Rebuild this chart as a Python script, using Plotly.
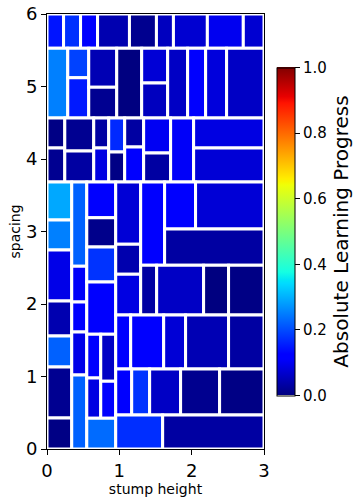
import numpy as np
import plotly.graph_objects as go

# cell bounds (stump height x, spacing y) and absolute learning progress
x0 = [0, 0.229, 0.464, 0.699, 1.140, 1.513, 1.748, 2.217, 2.714,
      0, 0.287, 0.287, 0.577, 0.577, 0.964, 1.309, 1.309, 1.668, 1.944, 2.193, 2.483,
      0, 0, 0.246, 0.246, 0.646, 0.646, 0.853, 0.853, 1.074, 1.074, 1.336, 1.336, 1.709, 2.027, 2.027,
      0, 0, 0, 0, 0, 0, 0,
      0.342, 0.342, 0.342, 0.342, 0.342,
      0.550, 0.550, 0.550, 0.550, 0.550, 0.550, 0.743, 0.743, 0.550,
      0.950, 0.950, 0.950, 1.295, 1.626, 2.054, 1.626,
      1.295, 1.516, 2.165, 2.510,
      0.950, 1.157, 1.613, 1.916, 2.510,
      0.950, 1.171, 1.419, 1.847, 2.386,
      0.950, 1.599]
x1 = [0.229, 0.464, 0.699, 1.140, 1.513, 1.748, 2.217, 2.714, 3,
      0.287, 0.577, 0.577, 0.964, 0.964, 1.309, 1.668, 1.668, 1.944, 2.193, 2.483, 3,
      0.246, 0.246, 0.646, 0.646, 0.853, 0.853, 1.074, 1.074, 1.336, 1.336, 1.709, 1.709, 2.027, 3, 3,
      0.342, 0.342, 0.342, 0.342, 0.342, 0.342, 0.342,
      0.550, 0.550, 0.550, 0.550, 0.550,
      0.950, 0.950, 0.950, 0.950, 0.743, 0.743, 0.950, 0.950, 0.950,
      1.295, 1.295, 1.295, 1.626, 2.054, 3, 3,
      1.516, 2.165, 2.510, 3,
      1.157, 1.613, 1.916, 2.510, 3,
      1.171, 1.419, 1.847, 2.386, 3,
      1.599, 3]
y0 = [5.528] * 9 + \
     [4.566, 5.12, 4.566, 4.99, 4.566, 4.566, 5.05, 4.566, 4.566, 4.566, 4.566, 4.566] + \
     [4.152, 3.683, 4.11, 3.683, 4.152, 3.683, 4.097, 3.683, 4.166, 3.683, 4.083, 3.683, 3.683, 4.152, 3.683] + \
     [3.159, 2.745, 2.041, 1.559, 1.131, 0.428, 0] + \
     [2.521, 2.028, 1.614, 1.021, 0] + \
     [3.188, 2.786, 2.303, 1.583, 0.979, 0.425, 0.935, 0.425, 0] + \
     [2.825, 2.411, 1.848, 2.535, 3.034, 3.034, 2.535] + \
     [1.848] * 4 + [1.103] * 5 + [0.469] * 5 + [0, 0]
y1 = [6] * 9 + \
     [5.528, 5.528, 5.12, 5.528, 4.99, 5.528, 5.528, 5.05, 5.528, 5.528, 5.528, 5.528] + \
     [4.566, 4.152, 4.566, 4.11, 4.566, 4.152, 4.566, 4.097, 4.566, 4.166, 4.566, 4.083, 4.566, 4.566, 4.152] + \
     [3.683, 3.159, 2.745, 2.041, 1.559, 1.131, 0.428] + \
     [3.683, 2.521, 2.028, 1.614, 1.021] + \
     [3.683, 3.188, 2.786, 2.303, 1.583, 0.979, 1.583, 0.935, 0.425] + \
     [3.683, 2.825, 2.411, 3.683, 3.683, 3.683, 3.034] + \
     [2.535] * 4 + [1.848] * 5 + [1.103] * 5 + [0.469, 0.469]
alp = [0.145, 0.172, 0.115, 0.042, 0.013, 0.055, 0.07, 0.097, 0.07,
       0.25, 0.19, 0.15, 0.045, 0.015, 0.0, 0.075, 0.055, 0.06, 0.115, 0.08, 0.06,
       0.005, 0.015, 0.015, 0.03, 0.03, 0.085, 0.165, 0.005, 0.03, 0.115, 0.1, 0.03, 0.105, 0.085, 0.075,
       0.29, 0.25, 0.09, 0.042, 0.22, 0.015, 0.005,
       0.22, 0.105, 0.115, 0.09, 0.22,
       0.11, 0.01, 0.175, 0.11, 0.115, 0.085, 0.06, 0.115, 0.23,
       0.075, 0.04, 0.085, 0.115, 0.115, 0.075, 0.03,
       0.03, 0.06, 0.0, 0.005,
       0.115, 0.11, 0.075, 0.045, 0.03,
       0.115, 0.175, 0.06, 0.013, 0.005,
       0.17, 0.03]

# matplotlib-style jet
red = [(0, 0), (0.35, 0), (0.66, 1), (0.89, 1), (1, 0.5)]
green = [(0, 0), (0.125, 0), (0.375, 1), (0.64, 1), (0.91, 0), (1, 0)]
blue = [(0, 0.5), (0.11, 1), (0.34, 1), (0.65, 0), (1, 0)]


def jet(v):
    ch = []
    for seg in (red, green, blue):
        xs, ys = zip(*seg)
        ch.append(int(round(float(np.interp(v, xs, ys)) * 255)))
    return f"rgb({ch[0]},{ch[1]},{ch[2]})"


stops = sorted(set(p for seg in (red, green, blue) for p, _ in seg))
jet_scale = [[s, jet(s)] for s in stops]

fig = go.Figure()
for a, b, c, d, v in zip(x0, x1, y0, y1, alp):
    fig.add_shape(type="rect", xref="x", yref="y", x0=a, x1=b, y0=c, y1=d,
                  fillcolor=jet(v), line=dict(color="white", width=3), layer="below")

fig.add_trace(go.Scatter(
    x=[None], y=[None], mode="markers", showlegend=False, hoverinfo="skip",
    marker=dict(color=[0], cmin=0, cmax=1, colorscale=jet_scale, showscale=True,
                colorbar=dict(x=1.061, xanchor="left", xpad=0, y=0.5, yanchor="middle",
                              len=0.8, thickness=18, outlinecolor="black", outlinewidth=1,
                              tickvals=[0, 0.2, 0.4, 0.6, 0.8, 1.0], tickformat=".1f",
                              ticks="outside", ticklen=5, tickcolor="black",
                              tickfont=dict(size=15, color="black"),
                              title=dict(text="Absolute Learning Progress", side="right",
                                         font=dict(size=20, color="black"))))))

axis_style = dict(showgrid=False, zeroline=False, showline=True, mirror=True,
                  linecolor="black", linewidth=1, ticks="outside", ticklen=5,
                  tickcolor="black", tickfont=dict(size=18, color="black"),
                  automargin=False)
fig.update_xaxes(range=[0, 3], tickvals=[0, 1, 2, 3],
                 title=dict(text="stump height", font=dict(size=14, color="black"), standoff=4),
                 **axis_style)
fig.update_yaxes(range=[0, 6], tickvals=[0, 1, 2, 3, 4, 5, 6],
                 title=dict(text="spacing", font=dict(size=14, color="black"), standoff=2),
                 **axis_style)
fig.update_layout(width=355, height=501,
                  margin=dict(l=47, r=91, t=14, b=52, autoexpand=False),
                  plot_bgcolor="white", paper_bgcolor="white",
                  font=dict(family="DejaVu Sans", color="black"))

# drop the default 8px page margin so the figure fills the window
fig.write_html("out.html", config={"displayModeBar": False},
               post_script="document.body.style.margin='0px';")
